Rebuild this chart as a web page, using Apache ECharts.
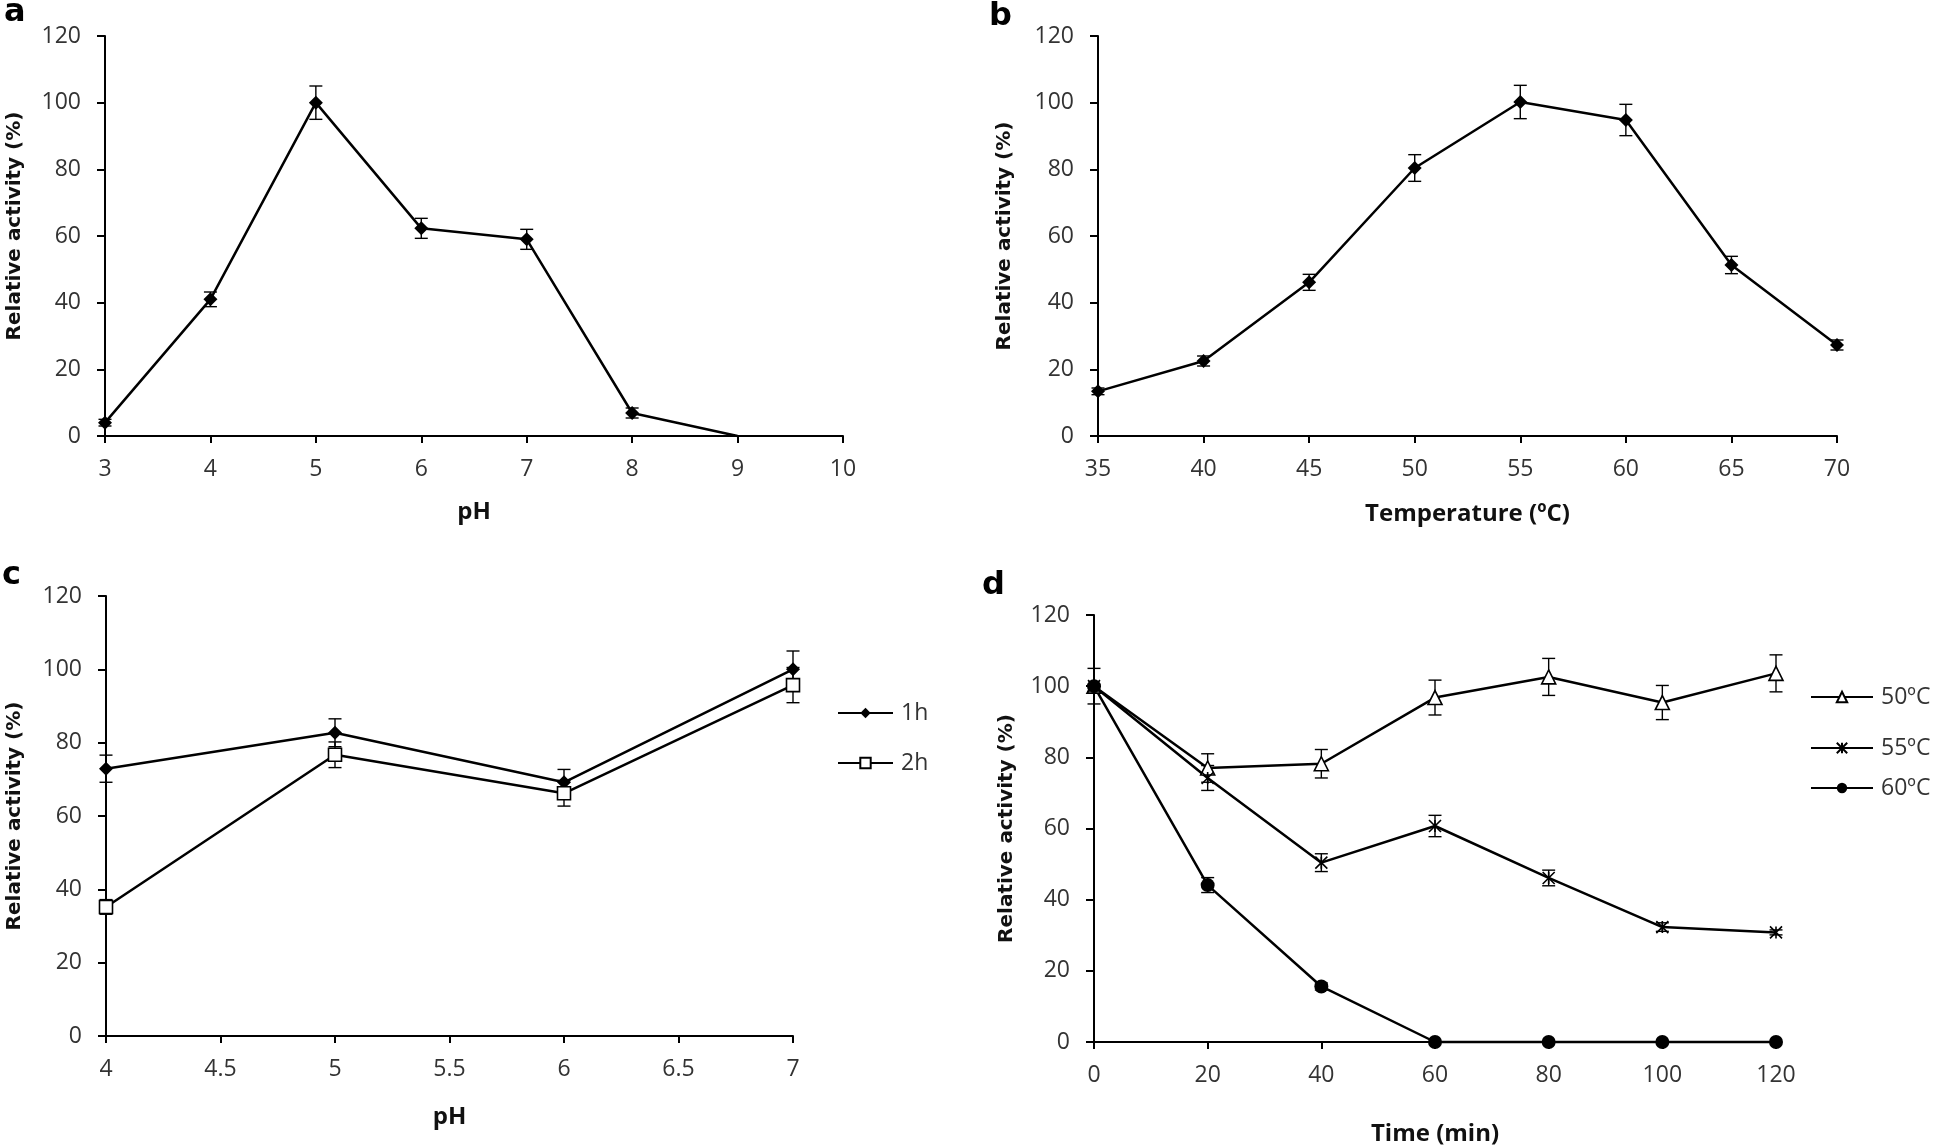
<!DOCTYPE html>
<html>
<head>
<meta charset="utf-8">
<script src="https://cdn.jsdelivr.net/npm/echarts@6/dist/echarts.min.js"></script>
<style>
html,body{margin:0;padding:0;background:#fff;}
#chart{width:1960px;height:1147px;}
</style>
</head>
<body>
<div id="chart"></div>
<script>
// ---------- Data ----------
// Panel a: pH optimum
const phA = [3, 4, 5, 6, 7, 8, 9];
const actA = [4, 41, 100, 62.3, 59, 6.9, 0];
const errA = [1, 2.2, 5, 3, 3, 1.5, 0];

// Panel b: temperature optimum
const tempB = [35, 40, 45, 50, 55, 60, 65, 70];
const actB = [13.4, 22.5, 46.1, 80.4, 100.2, 94.8, 51.3, 27.3];
const errB = [1, 1.5, 2.4, 4, 5, 4.7, 2.6, 1.5];

// Panel c: pH stability
const phC = [4, 5, 6, 7];
const act1h = [72.9, 82.7, 69.2, 100];
const err1h = [3.7, 3.8, 3.5, 5];
const act2h = [35.2, 76.7, 66.2, 95.7];
const err2h = [2, 3.5, 3.5, 4.8];

// Panel d: thermal stability
const timeD = [0, 20, 40, 60, 80, 100, 120];
const act50 = [100, 77, 78.2, 96.8, 102.6, 95.4, 103.6];
const err50 = [5, 4, 4, 4.9, 5.2, 4.8, 5.2];
const act55 = [100, 74.2, 50.4, 60.7, 46.1, 32.3, 30.8];
const err55 = [0, 3.5, 2.5, 3, 2.2, 1.2, 0.7];
const act60 = [100, 44.1, 15.6, 0, 0, 0, 0];
const err60 = [0, 2.1, 1, 0, 0, 0, 0];

const yTicks = {min: 0, max: 120, interval: 20};
const seriesNamesC = ['1h', '2h'];
const seriesNamesD = ['50ºC', '55ºC', '60ºC'];

// ---------- Helpers ----------
const pts = (xs, ys) => xs.map((x, i) => [x, ys[i]]);
const errData = (xs, ys, es) => xs.map((x, i) => [x, ys[i] - es[i], ys[i] + es[i]]).filter((d, i) => es[i] > 0);

const tickFont = {fontFamily: 'Open Sans', fontSize: 23, color: '#333'};
const yNameStyle = {fontFamily: 'DejaVu Sans', fontWeight: 'bold', fontSize: 20, color: '#111'};
const xNameStyle = {fontFamily: 'Open Sans', fontWeight: 'bold', fontSize: 24, color: '#111'};

function xAxisCfg(idx, min, max, interval, name, gap) {
  return {
    type: 'value', gridIndex: idx, min: min, max: max, interval: interval,
    name: name, nameLocation: 'middle', nameGap: gap, nameTextStyle: xNameStyle,
    axisLine: {show: true, onZero: false, lineStyle: {color: '#000', width: 2}},
    axisTick: {show: true, length: 7, lineStyle: {color: '#000', width: 2}},
    axisLabel: Object.assign({margin: 22}, tickFont),
    splitLine: {show: false}
  };
}
function yAxisCfg(idx, gap, pad) {
  return Object.assign({
    type: 'value', gridIndex: idx,
    name: 'Relative activity (%)', nameLocation: 'middle', nameGap: gap,
    nameTextStyle: Object.assign({padding: pad || 0}, yNameStyle),
    axisLine: {show: true, onZero: false, lineStyle: {color: '#000', width: 2}},
    axisTick: {show: true, length: 8, lineStyle: {color: '#000', width: 2}},
    axisLabel: Object.assign({margin: 24}, tickFont),
    splitLine: {show: false}
  }, yTicks);
}

function errorSeries(idx, data) {
  return {
    type: 'custom', xAxisIndex: idx, yAxisIndex: idx, data: data, clip: false, z: 3,
    encode: {x: 0, y: [1, 2]}, silent: true,
    renderItem: function (params, api) {
      const x = api.value(0);
      const lo = api.coord([x, api.value(1)]);
      const hi = api.coord([x, api.value(2)]);
      const w = 6.5;
      const st = {stroke: '#000', lineWidth: 1.4};
      return {type: 'group', children: [
        {type: 'line', shape: {x1: hi[0], y1: hi[1], x2: lo[0], y2: lo[1]}, style: st},
        {type: 'line', shape: {x1: hi[0] - w, y1: hi[1], x2: hi[0] + w, y2: hi[1]}, style: st},
        {type: 'line', shape: {x1: lo[0] - w, y1: lo[1], x2: lo[0] + w, y2: lo[1]}, style: st}
      ]};
    }
  };
}

function lineSeries(idx, name, data, symbol, size, fill) {
  return {
    type: 'line', name: name, xAxisIndex: idx, yAxisIndex: idx, data: data,
    symbol: symbol, symbolSize: size, clip: false, z: 4,
    showAllSymbol: true,
    lineStyle: {color: '#000', width: 2.5},
    itemStyle: {color: fill, borderColor: '#000', borderWidth: fill === '#000' ? 0 : 1.6},
    emphasis: {disabled: true}
  };
}

const starPath = 'path://M0,0L10,10M10,0L0,10M5,0L5,10';

// panel a data with no marker on final zero point
const dataA = pts(phA, actA).map((p, i) => i === phA.length - 1 ? {value: p, symbol: 'none'} : p);

function legendCfg(name, left, centerY, w) {
  return {
    data: [name], orient: 'vertical', left: left, top: centerY - 12, padding: 0,
    itemWidth: w, itemHeight: 13, itemGap: 0, selectedMode: false,
    textStyle: {fontFamily: 'Open Sans', fontSize: 23, color: '#333', lineHeight: 24, padding: [0, 0, 0, 3]}
  };
}

const option = {
  animation: false,
  backgroundColor: '#fff',
  grid: [
    {left: 105, top: 36, width: 738, height: 400},
    {left: 1098, top: 36, width: 739, height: 400},
    {left: 106, top: 596, width: 687, height: 440},
    {left: 1094, top: 615, width: 682, height: 431}
  ],
  xAxis: [
    xAxisCfg(0, 3, 10, 1, 'pH', 64),
    xAxisCfg(1, 35, 70, 5, 'Temperature (ºC)', 66),
    xAxisCfg(2, 4, 7, 0.5, 'pH', 69),
    xAxisCfg(3, 0, 120, 20, 'Time (min)', 80)
  ],
  yAxis: [
    yAxisCfg(0, 80, [0, 0, 0, 20]),
    yAxisCfg(1, 83),
    yAxisCfg(2, 81),
    yAxisCfg(3, 77)
  ],
  legend: [
    legendCfg('1h', 837, 713, 55),
    legendCfg('2h', 837, 763, 55),
    legendCfg('50ºC', 1810, 697, 62),
    legendCfg('55ºC', 1810, 748, 62),
    legendCfg('60ºC', 1810, 788, 62)
  ],
  graphic: [
    {type: 'text', style: {text: 'a', x: 4, y: 13, font: 'bold 32px "DejaVu Sans"', fill: '#000', verticalAlign: 'middle'}},
    {type: 'text', style: {text: 'b', x: 989, y: 17, font: 'bold 32px "DejaVu Sans"', fill: '#000', verticalAlign: 'middle'}},
    {type: 'text', style: {text: 'c', x: 2, y: 576, font: 'bold 32px "DejaVu Sans"', fill: '#000', verticalAlign: 'middle'}},
    {type: 'text', style: {text: 'd', x: 982, y: 586, font: 'bold 32px "DejaVu Sans"', fill: '#000', verticalAlign: 'middle'}}
  ],
  series: [
    lineSeries(0, 'pH activity', dataA, 'diamond', 14, '#000'),
    errorSeries(0, errData(phA, actA, errA)),

    lineSeries(1, 'Temp activity', pts(tempB, actB), 'diamond', 14, '#000'),
    errorSeries(1, errData(tempB, actB, errB)),

    lineSeries(2, seriesNamesC[0], pts(phC, act1h), 'diamond', 14, '#000'),
    errorSeries(2, errData(phC, act1h, err1h)),
    lineSeries(2, seriesNamesC[1], pts(phC, act2h), 'rect', 13, '#fff'),
    errorSeries(2, errData(phC, act2h, err2h)),

    lineSeries(3, seriesNamesD[0], pts(timeD, act50), 'triangle', 14, '#fff'),
    errorSeries(3, errData(timeD, act50, err50)),
    lineSeries(3, seriesNamesD[1], pts(timeD, act55), starPath, 12, 'none'),
    errorSeries(3, errData(timeD, act55, err55)),
    lineSeries(3, seriesNamesD[2], pts(timeD, act60), 'circle', 14, '#000'),
    errorSeries(3, errData(timeD, act60, err60))
  ]
};

const chart = echarts.init(document.getElementById('chart'), null, {renderer: 'canvas'});
chart.setOption(option);
</script>
</body>
</html>
